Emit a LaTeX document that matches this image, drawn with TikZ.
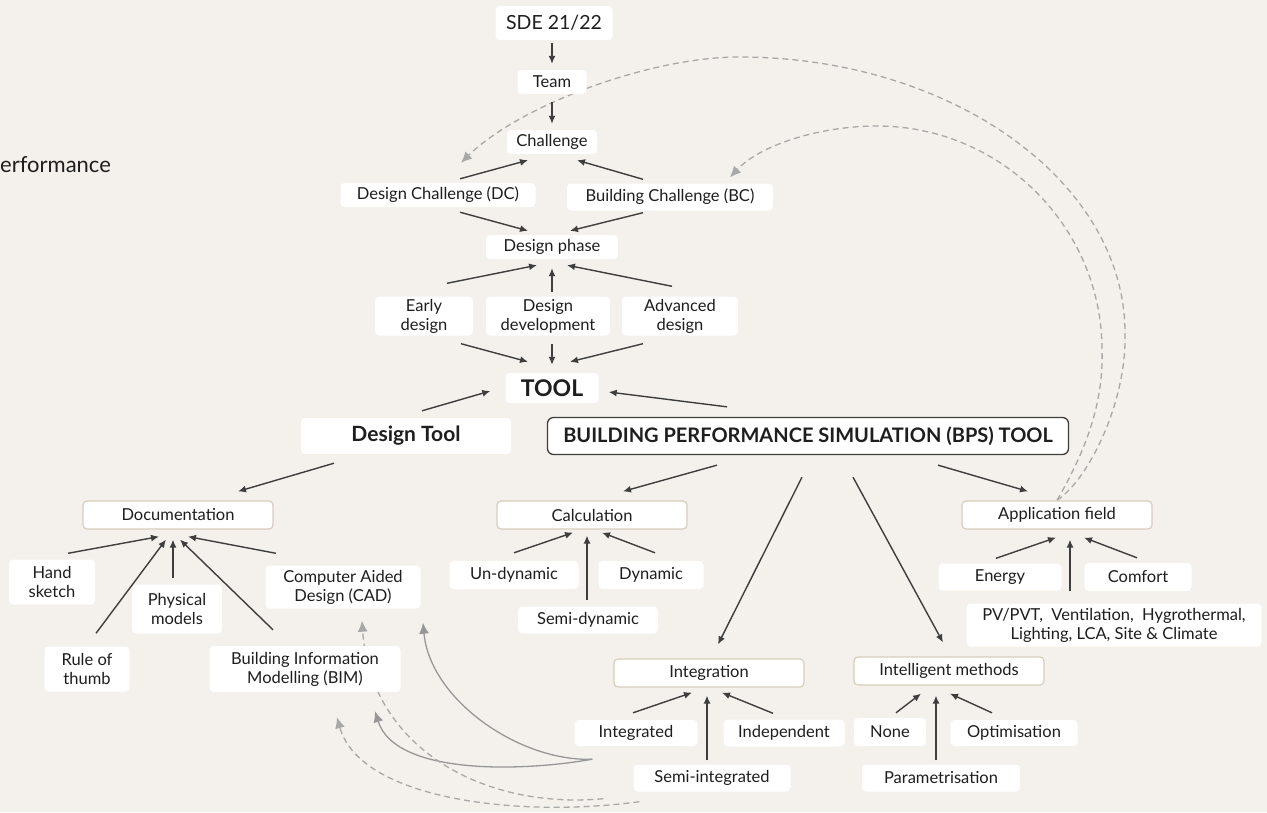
\documentclass[tikz,border=0pt]{standalone}
\usepackage{fontspec}
\setmainfont{Lato}
\usetikzlibrary{
  arrows.meta,
  positioning,
  calc,
  backgrounds
}
\definecolor{paper}{RGB}{244,241,236}
\definecolor{catline}{RGB}{216,205,188}
\definecolor{ink}{RGB}{62,62,62}
\definecolor{txt}{RGB}{30,30,30}
\definecolor{loopgray}{RGB}{168,168,168}
\newcommand\lblfont{\fontsize{16.5}{19}\selectfont}
\tikzset{
  lbl/.style={fill=white, rounded corners=4pt, inner sep=0pt,
    align=center, text=txt, font=\lblfont},
  catbox/.style={lbl, draw=catline, line width=1.2pt},
  bpsbox/.style={lbl, draw=ink, line width=1.3pt, rounded corners=6pt,
    font=\fontsize{20}{24}\selectfont\bfseries},
  sz/.style 2 args={minimum width=#1pt, minimum height=#2pt},
  arr/.style={-{Latex[length=8pt,width=7pt]}, line width=1.4pt, ink},
  fbk/.style={-{Latex[length=11pt,width=10pt]}, line width=1.3pt,
    loopgray, dash pattern=on 6pt off 4pt},
  lnk/.style={-{Latex[length=11pt,width=10pt]}, line width=1.3pt,
    loopgray!90!black},
}

\begin{document}
\begin{tikzpicture}[x=1pt, y=-1pt]
  \useasboundingbox (0,0) rectangle (1267,812);

  \node[anchor=west, inner sep=0pt, text=txt,
    font=\fontsize{22}{26}\selectfont] (perf) at (0,165) {erformance};

  % Challenge and design phase
  \node[lbl, sz={117}{34}, font=\fontsize{19.5}{22}\selectfont] (sde)
    at (554,23) {SDE 21/22};
  \node[lbl, sz={69}{24}] (team) at (552,82) {Team};
  \node[lbl, sz={90}{24}] (chal) at (552,142) {Challenge};
  \node[lbl, sz={195}{24}] (dc) at (438,195) {Design Challenge (DC)};
  \node[lbl, sz={206}{27}] (bc) at (670,197) {Building Challenge (BC)};
  \node[lbl, sz={132}{24}] (dphase) at (552,247) {Design phase};
  \node[lbl, sz={98}{39}] (early) at (424,316) {Early\\design};
  \node[lbl, sz={124}{39}] (dev) at (548,316) {Design\\development};
  \node[lbl, sz={116}{39}] (adv) at (680,316) {Advanced\\design};

  % Tools
  \node[lbl, sz={93}{30}, font=\fontsize{23}{26}\selectfont\bfseries] (tool)
    at (552,388) {TOOL};
  \node[lbl, sz={210}{36}, font=\fontsize{21}{24}\selectfont\bfseries] (dtool)
    at (406,436) {Design Tool};
  \node[bpsbox, sz={521}{37}] (bps) at (808,436)
    {BUILDING PERFORMANCE SIMULATION (BPS) TOOL};

  % Categories
  \node[catbox, sz={190}{28}] (doc) at (178,515) {Documentation};
  \node[catbox, sz={190}{28}] (calc) at (592,515) {Calculation};
  \node[catbox, sz={190}{28}] (appf) at (1057,515) {Application field};
  \node[catbox, sz={190}{28}] (integ) at (709,673) {Integration};
  \node[catbox, sz={190}{28}] (intm) at (949,671) {Intelligent methods};

  \node[lbl, sz={86}{45}] (hand) at (52,582) {Hand\\sketch};
  \node[lbl, sz={90}{49}] (phys) at (177,609) {Physical\\models};
  \node[lbl, sz={85}{45}] (rule) at (87,669) {Rule of\\thumb};
  \node[lbl, sz={155}{43}] (cad) at (343,587) {Computer Aided\\Design (CAD)};
  \node[lbl, sz={191}{46}] (bim) at (305,669)
    {Building Information\\Modelling (BIM)};

  \node[lbl, sz={129}{28}] (undyn) at (514,575) {Un-dynamic};
  \node[lbl, sz={105}{28}] (dyn) at (651,575) {Dynamic};
  \node[lbl, sz={140}{27}] (semidyn) at (588,620) {Semi-dynamic};

  \node[lbl, sz={123}{27}] (energy) at (1000,577) {Energy};
  \node[lbl, sz={107}{28}] (comfort) at (1138,577) {Comfort};
  \node[lbl, sz={295}{43}] (pv) at (1114,625)
    {PV/PVT,\ \ Ventilation,\ \ Hygrothermal,\\Lighting, LCA, Site \& Climate};

  \node[lbl, sz={123}{26}] (integd) at (636,733) {Integrated};
  \node[lbl, sz={121}{27}] (indep) at (784,733) {Independent};
  \node[lbl, sz={157}{27}] (semiint) at (712,778) {Semi-integrated};

  \node[lbl, sz={72}{28}] (none) at (890,732) {None};
  \node[lbl, sz={127}{26}] (optim) at (1014,733) {Optimisation};
  \node[lbl, sz={158}{27}] (param) at (941,778) {Parametrisation};

  % Main flow
  \draw[arr] ([shift={(-2,3)}]sde.south) -- ([shift={(0,-6)}]team.north);
  \draw[arr] ([shift={(0,8)}]team.south) -- ([shift={(0,-6)}]chal.north);
  \draw[arr] ([shift={(22,-4)}]dc.north) -- ([shift={(-24,6)}]chal.south);
  \draw[arr] ([shift={(-27,-4)}]bc.north) -- ([shift={(25,6)}]chal.south);
  \draw[arr] ([shift={(22,5)}]dc.south) -- ([shift={(-24,-4)}]dphase.north);
  \draw[arr] ([shift={(-27,2)}]bc.south) -- ([shift={(18,-4)}]dphase.north);
  \draw[arr] ([shift={(23,-13)}]early.north) -- ([shift={(-15,6)}]dphase.south);
  \draw[arr] ([shift={(4,-4)}]dev.north) -- ([shift={(0,9)}]dphase.south);
  \draw[arr] ([shift={(-8,-10)}]adv.north) -- ([shift={(15,6)}]dphase.south);
  \draw[arr] ([shift={(37,8)}]early.south) -- ([shift={(-24,-11)}]tool.north);
  \draw[arr] ([shift={(4,8)}]dev.south) -- ([shift={(0,-8)}]tool.north);
  \draw[arr] ([shift={(-37,8)}]adv.south) -- ([shift={(18,-11)}]tool.north);
  \draw[arr] ([shift={(16,-7)}]dtool.north) -- ([shift={(-15,3)}]tool.west);
  \draw[arr] ([shift={(-81,-10)}]bps.north) -- ([shift={(10,4)}]tool.east);

  % Tool branches
  \draw[arr] ([shift={(-72,9)}]dtool.south) -- ([shift={(60,-9)}]doc.north);
  \draw[arr] ([shift={(-91,10)}]bps.south) -- ([shift={(31,-9)}]calc.north);
  \draw[arr] ([shift={(-6,22)}]bps.south) -- ([shift={(9,-14)}]integ.north);
  \draw[arr] ([shift={(45,22)}]bps.south) -- ([shift={(-6,-14)}]intm.north);
  \draw[arr] ([shift={(130,10)}]bps.south) -- ([shift={(-29,-9)}]appf.north);

  % Leaves
  \draw[arr] ([shift={(16,-6)}]hand.north) -- ([shift={(-19,7)}]doc.south);
  \draw[arr] ([shift={(9,-13)}]rule.north) -- ([shift={(-12,10)}]doc.south);
  \draw[arr] ([shift={(-4,-6)}]phys.north) -- ([shift={(-5,10)}]doc.south);
  \draw[arr] ([shift={(-32,-16)}]bim.north) -- ([shift={(2,10)}]doc.south);
  \draw[arr] ([shift={(-67,-12)}]cad.north) -- ([shift={(10,7)}]doc.south);

  \draw[arr] ([shift={(0,-8)}]undyn.north) -- ([shift={(-19,3)}]calc.south);
  \draw[arr] ([shift={(-1,-6)}]semidyn.north) -- ([shift={(-5,6)}]calc.south);
  \draw[arr] ([shift={(4,-8)}]dyn.north) -- ([shift={(10,3)}]calc.south);

  \draw[arr] ([shift={(-4,-5)}]energy.north) -- ([shift={(-1,8)}]appf.south);
  \draw[arr] ([shift={(-44,-12)}]pv.north) -- ([shift={(13,10)}]appf.south);
  \draw[arr] ([shift={(-1,-5)}]comfort.north) -- ([shift={(27,8)}]appf.south);

  \draw[arr] ([shift={(-3,-7)}]integd.north) -- ([shift={(-17,5)}]integ.south);
  \draw[arr] ([shift={(-5,-4)}]semiint.north) -- ([shift={(-2,8)}]integ.south);
  \draw[arr] ([shift={(-11,-6)}]indep.north) -- ([shift={(13,5)}]integ.south);

  \draw[arr] ([shift={(6,-5)}]none.north) -- ([shift={(-28,8)}]intm.south);
  \draw[arr] ([shift={(-5,-4)}]param.north) -- ([shift={(-13,10)}]intm.south);
  \draw[arr] ([shift={(-22,-7)}]optim.north) -- ([shift={(1,8)}]intm.south);

  % Feedback links behind the boxes
  \begin{scope}[on background layer]
    \fill[paper] (0,0) rectangle (1267,812);
    \draw[fbk] (appf.north) .. controls (1090,478) and (1127,400) .. (1125,333)
      .. controls (1125,181) and (951,57) .. (739,57)
      .. controls (650,57) and (520,105) .. ([shift={(23,-20)}]dc.north);
    \draw[fbk] (appf.north) .. controls (1080,460) and (1104,410) .. (1102,350)
      .. controls (1102,227) and (1001,126) .. (877,126)
      .. controls (820,126) and (760,145) .. ([shift={(60,-6)}]bc.north);
    \draw[lnk] ([shift={(18,13)}]integd.south west)
      .. controls (520,762) and (430,700) .. ([shift={(80,14)}]cad.south);
    \draw[lnk] ([shift={(18,13)}]integd.south west)
      .. controls (520,772) and (395,775) .. ([shift={(70,19)}]bim.south);
    \draw[fbk] ([shift={(-30,7)}]semiint.south west)
      .. controls (480,810) and (370,745) .. ([shift={(19,12)}]cad.south);
    \draw[fbk] ([shift={(6,10)}]semiint.south west)
      .. controls (520,818) and (360,800) .. ([shift={(32,25)}]bim.south);
  \end{scope}
\end{tikzpicture}
\end{document}
